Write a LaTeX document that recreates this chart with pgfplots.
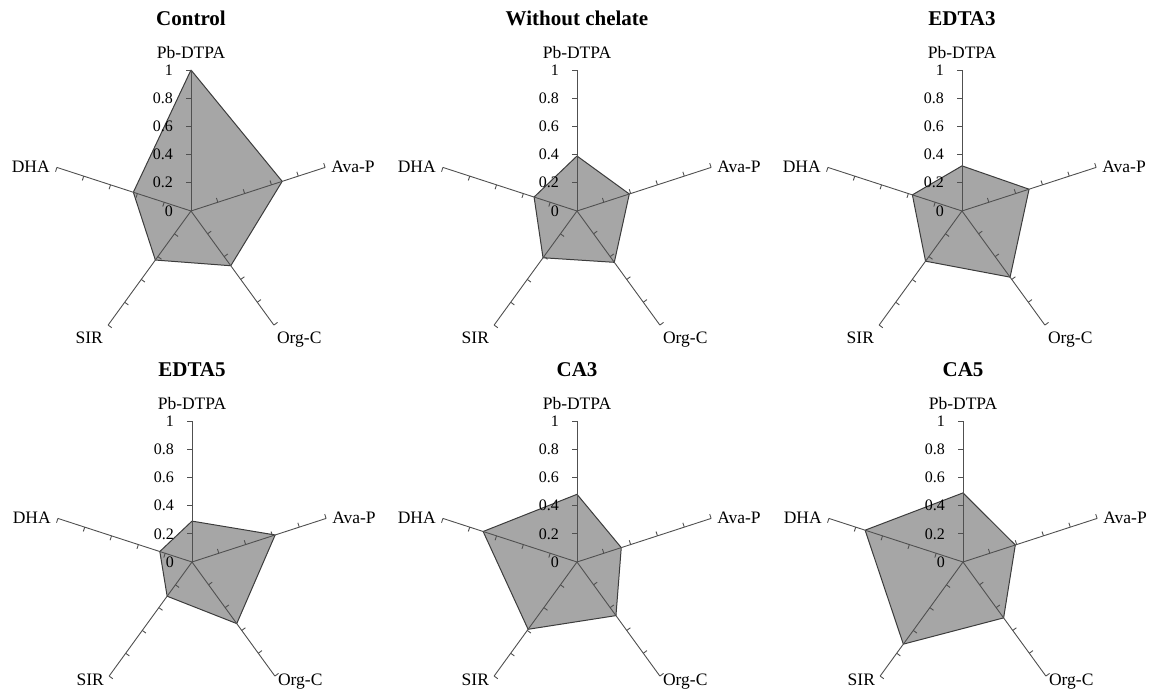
\documentclass[border=0pt]{standalone}
\usepackage{pgfplots}
\pgfplotsset{compat=1.18}
\usepackage{fontspec}
\setmainfont{Liberation Serif}
\definecolor{fillc}{HTML}{A6A6A6}
\definecolor{edgec}{HTML}{3C3C3C}
\definecolor{spokec}{HTML}{505050}
\newcommand\labfont{\fontsize{17.5}{20}\selectfont}
\newcommand\tickfont{\fontsize{16}{18}\selectfont}
\newcommand\titlefont{\fontsize{21}{24}\selectfont\bfseries}
\pgfplotsset{radar/.style={hide axis, scale only axis, width=282pt, height=282pt,
  xmin=-1, xmax=1, ymin=-1, ymax=1, clip=false, anchor=center}}
\newcommand\tk[2]{\draw[spokec, line width=0.9pt] (axis cs:{#2*cos(#1)},{#2*sin(#1)}) -- (axis cs:{#2*cos(#1)-0.032*sin(#1)},{#2*sin(#1)+0.032*cos(#1)});}
\newcommand\spoke[1]{%
  \draw[spokec, line width=0.9pt] (axis cs:0,0) -- (axis cs:{cos(#1)},{sin(#1)});
  \tk{#1}{0.2}\tk{#1}{0.4}\tk{#1}{0.6}\tk{#1}{0.8}\tk{#1}{1}}
\newcommand\tl[1]{\node[anchor=east, inner sep=0pt, xshift=-18pt, font=\tickfont] at (axis cs:0,#1) {#1};}
\newcommand\spokes[1]{%
  \spoke{90}\spoke{18}\spoke{306}\spoke{234}\spoke{162}%
  \tl{0}\tl{0.2}\tl{0.4}\tl{0.6}\tl{0.8}\tl{1}%
  \node[anchor=base, inner sep=0pt, yshift=11pt, font=\labfont] at (axis cs:0,1) {Pb-DTPA};
  \node[anchor=west, inner sep=0pt, xshift=6pt, yshift=1pt, font=\labfont] at (axis cs:0.9511,0.3090) {Ava-P};
  \node[anchor=north west, inner sep=0pt, xshift=3pt, yshift=#1, font=\labfont] at (axis cs:0.5878,-0.8090) {Org-C};
  \node[anchor=north east, inner sep=0pt, xshift=-5pt, yshift=#1, font=\labfont] at (axis cs:-0.5878,-0.8090) {SIR};
  \node[anchor=east, inner sep=0pt, xshift=-7pt, yshift=1pt, font=\labfont] at (axis cs:-0.9511,0.3090) {DHA};
}
\newcommand\radar[5]{%
  \begin{axis}[radar, at={(#1pt,#2pt)}]
    \addplot[data cs=polar, draw=edgec, fill=fillc, line width=1pt, no markers, line join=round] coordinates {#4};
    \spokes{#5}
    \node[anchor=base, inner sep=0pt, yshift=44pt, font=\titlefont] at (axis cs:0,1) {#3};
  \end{axis}}
\begin{document}
\begin{tikzpicture}
\radar{191}{479}{Control}{(90,1.00) (18,0.68) (306,0.48) (234,0.43) (162,0.43) (90,1.00)}{-7pt}
\radar{577}{479}{Without chelate}{(90,0.39) (18,0.39) (306,0.45) (234,0.41) (162,0.32) (90,0.39)}{-7pt}
\radar{962}{479}{EDTA3}{(90,0.32) (18,0.50) (306,0.58) (234,0.44) (162,0.37) (90,0.32)}{-7pt}
\radar{192}{128}{EDTA5}{(90,0.29) (18,0.62) (306,0.54) (234,0.30) (162,0.24) (90,0.29)}{2pt}
\radar{577}{128}{CA3}{(90,0.48) (18,0.33) (306,0.47) (234,0.59) (162,0.70) (90,0.48)}{2pt}
\radar{963}{128}{CA5}{(90,0.49) (18,0.39) (306,0.49) (234,0.72) (162,0.73) (90,0.49)}{2pt}
\pgfresetboundingbox
\path (0,0) rectangle (1151pt,690pt);
\end{tikzpicture}
\end{document}
